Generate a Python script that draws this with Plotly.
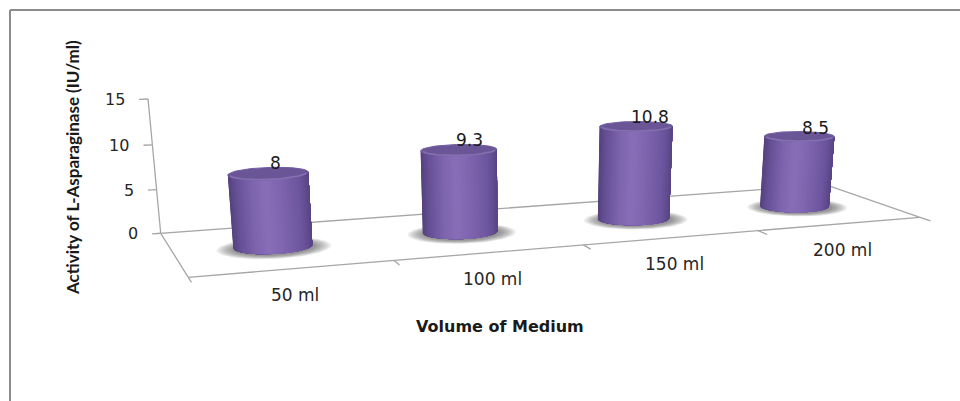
import numpy as np
import plotly.graph_objects as go

# ---- data -------------------------------------------------------------
categories = ["50 ml", "100 ml", "150 ml", "200 ml"]
activity = [8, 9.3, 10.8, 8.5]          # IU/ml
value_ticks = [0, 5, 10, 15]
y_title = "Activity of L-Asparaginase (IU/ml)"
x_title = "Volume of Medium"

# ---- perspective camera for the 3-D floor -----------------------------
# world: X = category units (0..4), Y = depth (0 front .. 1 back), Z = value
W, H = 960, 401
n_cat = len(categories)
front_left = np.array([188.3, 277.3])
front_right = np.array([920.0, 217.3])
back_left = np.array([160.7, 233.3])
vp_x = np.array([5145.0, -129.0])      # vanishing point of the category direction
vp_y = np.array([-62.0, -122.0])       # vanishing point of the depth direction
vp_z = np.array([525.0, 4100.0])       # vanishing point of vertical lines
z_max, z_max_screen_y = 15.0, 99.0     # top of the value axis

lam = (vp_x[0] - front_left[0]) / (vp_x[0] - front_right[0])
alpha = (lam - 1) / n_cat
beta = (vp_y[0] - front_left[0]) / (vp_y[0] - back_left[0]) - 1
cx = alpha * np.append(vp_x, 1.0)
cy = beta * np.append(vp_y, 1.0)
c0 = np.append(front_left, 1.0)
a = cy + c0                            # back-left corner, homogeneous
sz = (z_max_screen_y * a[2] - a[1]) / (z_max * (vp_z[1] - z_max_screen_y))
P = np.column_stack([cx, cy, sz * np.append(vp_z, 1.0), c0])


def proj(X, Y, Z):
    X, Y, Z = np.broadcast_arrays(np.asarray(X, float), np.asarray(Y, float), np.asarray(Z, float))
    pts = np.stack([X.ravel(), Y.ravel(), Z.ravel(), np.ones(X.size)])
    q = P @ pts
    return q[0] / q[2], q[1] / q[2]


def mix(stops, t):
    pos = [p for p, _ in stops]
    cols = np.array([c for _, c in stops], float)
    rgb = [np.interp(t, pos, cols[:, k]) for k in range(3)]
    return "rgb(%d,%d,%d)" % tuple(int(round(c)) for c in rgb)


fig = go.Figure()
axis_grey = "#a6a6a6"

# ---- floor outline + category ticks ---------------------------------
fx, fy = proj([0, n_cat, n_cat, 0, 0], [0, 0, 1, 1, 0], 0)
fig.add_trace(go.Scatter(x=fx, y=fy, mode="lines",
                         line=dict(color=axis_grey, width=1.3), hoverinfo="skip"))
tx, ty = [], []
for k in range(n_cat + 1):
    x0, y0 = proj([k, k], [0, -0.1], 0)
    tx += list(x0) + [None]; ty += list(y0) + [None]
fig.add_trace(go.Scatter(x=tx, y=ty, mode="lines",
                         line=dict(color=axis_grey, width=1.3), hoverinfo="skip"))

# ---- value axis -----------------------------------------------------
ax_x, ax_y = proj([0, 0], [1, 1], [0, z_max])
fig.add_trace(go.Scatter(x=ax_x, y=ax_y, mode="lines",
                         line=dict(color=axis_grey, width=1.3), hoverinfo="skip"))
tx, ty = [], []
for v in value_ticks:
    x0, y0 = proj([0, -0.045], [1, 1], [v, v])
    tx += list(x0) + [None]; ty += list(y0) + [None]
    fig.add_annotation(x=x0[1], y=y0[1], text=str(v), showarrow=False,
                       xanchor="right", yanchor="middle", xshift=-12,
                       font=dict(family="DejaVu Sans", size=16, color="#262626"))
fig.add_trace(go.Scatter(x=tx, y=ty, mode="lines",
                         line=dict(color=axis_grey, width=1.3), hoverinfo="skip"))

# ---- cylinders ------------------------------------------------------
rx, ry, yc = 0.2, 0.17, 0.5
centers = [i + 0.5 for i in range(n_cat)]
circ = np.linspace(0, 2 * np.pi, 97)

# soft floor shadows
for scale in np.linspace(1.45, 1.02, 9):
    sx, sy = [], []
    for xc in centers:
        px, py = proj(xc + rx * scale * np.cos(circ),
                      yc - 0.03 + ry * scale * np.sin(circ), 0)
        sx += list(px) + [None]; sy += list(py) + [None]
    fig.add_trace(go.Scatter(x=sx, y=sy, mode="lines", fill="toself",
                             fillcolor="rgba(70,70,70,0.085)", line=dict(width=0),
                             hoverinfo="skip"))


def silhouette(xc, v):
    """Angles of the left / right outline of a cylinder as seen by the camera."""
    left = np.linspace(0.5 * np.pi, 1.5 * np.pi, 721)
    right = np.linspace(1.5 * np.pi, 2.5 * np.pi, 721)
    xl, _ = proj(xc + rx * np.cos(left), yc + ry * np.sin(left), v / 2)
    xr, _ = proj(xc + rx * np.cos(right), yc + ry * np.sin(right), v / 2)
    return left[np.argmin(xl)], right[np.argmax(xr)]


outline = [silhouette(xc, v) for xc, v in zip(centers, activity)]

# shaded body: each band runs from its left edge to the right outline,
# painted left to right so the next band covers the rest
body_stops = [(0.0, (88, 69, 131)), (0.12, (108, 85, 158)), (0.35, (126, 100, 174)),
              (0.55, (137, 109, 184)), (0.72, (124, 99, 172)), (0.9, (102, 80, 150)),
              (1.0, (84, 66, 126))]
n_bands = 40
u = np.linspace(0, 1, n_bands + 1)
for k in range(n_bands):
    t = (1 - np.cos(np.pi * (1 + 0.5 * (u[k] + u[k + 1])))) / 2
    col = mix(body_stops, t)
    bx, by = [], []
    for xc, v, (pl, pr) in zip(centers, activity, outline):
        arc = np.linspace(pl + u[k] * (pr - pl), pr, max(3, n_bands - k + 2))
        X = xc + rx * np.cos(arc)
        Y = yc + ry * np.sin(arc)
        xb, ybt = proj(X, Y, 0)
        xt, ytt = proj(X, Y, v)
        bx += list(xb) + list(xt[::-1]) + [xb[0], None]
        by += list(ybt) + list(ytt[::-1]) + [ybt[0], None]
    fig.add_trace(go.Scatter(x=bx, y=by, mode="lines", fill="toself",
                             fillcolor=col, line=dict(width=0), hoverinfo="skip"))

# top faces
top_x, top_y, rim_x, rim_y = [], [], [], []
for xc, v, (pl, pr) in zip(centers, activity, outline):
    px, py = proj(xc + rx * np.cos(circ), yc + ry * np.sin(circ), v)
    top_x += list(px) + [None]; top_y += list(py) + [None]
    front = np.linspace(pl + 0.15, pr - 0.15, 40)
    px, py = proj(xc + rx * 0.95 * np.cos(front), yc + ry * 0.95 * np.sin(front), v)
    rim_x += list(px) + [None]; rim_y += list(py) + [None]
fig.add_trace(go.Scatter(x=top_x, y=top_y, mode="lines", fill="toself",
                         fillcolor="rgb(106,86,150)", line=dict(color="rgb(114,93,160)", width=1),
                         hoverinfo="skip"))
fig.add_trace(go.Scatter(x=rim_x, y=rim_y, mode="lines",
                         line=dict(color="rgb(132,111,176)", width=1.6),
                         hoverinfo="skip"))

# value labels above each cylinder
for xc, v in zip(centers, activity):
    fx_, _ = proj([xc], [yc - ry], [v])
    _, ey = proj(xc + rx * np.cos(circ), yc + ry * np.sin(circ), v)
    fig.add_annotation(x=fx_[0], y=ey.min(), text=f"{v:g}", showarrow=False,
                       xanchor="center", yanchor="bottom", xshift=1, yshift=-8,
                       font=dict(family="DejaVu Sans", size=17, color="#1a1a1a"))

# category labels in front of the floor
for i, name in enumerate(categories):
    px, py = proj([i + 0.5], [0], [0])
    fig.add_annotation(x=px[0], y=py[0], text=name, showarrow=False,
                       xanchor="center", yanchor="middle", xshift=2, yshift=-26,
                       font=dict(family="DejaVu Sans", size=17, color="#262626"))

# axis titles
fig.add_annotation(x=500, y=326, text=x_title, showarrow=False,
                   xanchor="center", yanchor="middle",
                   font=dict(family="DejaVu Sans", size=16, color="#1a1a1a", weight="bold"))
fig.add_annotation(x=72, y=168, text=y_title, showarrow=False, textangle=-90,
                   xanchor="center", yanchor="middle",
                   font=dict(family="Lato", size=17, color="#1a1a1a", weight="bold"))

# chart frame
frame = dict(color="#8c8c8c", width=2)
fig.add_shape(type="line", x0=10, x1=10, y0=10, y1=H, line=frame)
fig.add_shape(type="line", x0=10, x1=W, y0=10, y1=10, line=frame)

fig.update_layout(width=W, height=H, margin=dict(l=0, r=0, t=0, b=0),
                  paper_bgcolor="white", plot_bgcolor="white", showlegend=False,
                  xaxis=dict(visible=False, range=[0, W], fixedrange=True),
                  yaxis=dict(visible=False, range=[H, 0], fixedrange=True))
fig.write_html("out.html", config={"displayModeBar": False})
